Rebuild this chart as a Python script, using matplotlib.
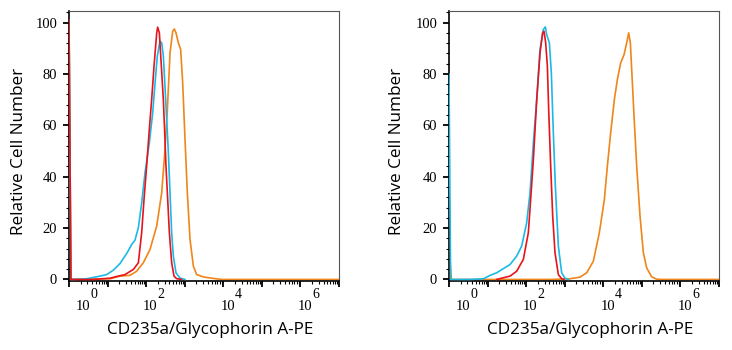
import numpy as np
import matplotlib
matplotlib.use("Agg")
import matplotlib.pyplot as plt
from matplotlib.ticker import FixedLocator, MultipleLocator, NullFormatter
from matplotlib.transforms import offset_copy

# ------------------------------------------------------------
# data (x = PE intensity, y = % of max)
# ------------------------------------------------------------
# left panel
red_L_x = [1.0, 1.12, 4.3, 11.6, 19.0, 28.3, 46.6, 62.8, 76.6, 88.0, 103, 119, 139, 160, 188,
           199, 220, 248, 279, 303, 327, 362, 400, 459, 528, 619, 834]
red_L_y = [101, 0, 0, 0.5, 1.3, 1.9, 3.9, 6.5, 18.2, 31.1, 44.1, 57.1, 70.0, 83.0, 96.0,
           98.2, 96.0, 83.0, 70.0, 57.1, 44.1, 31.1, 18.2, 6.5, 1.3, 0.3, 0]
cyan_L_x = [1.0, 1.12, 2.87, 6.37, 9.48, 14.1, 21.0, 31.3, 42.2, 51.4, 62.8, 76.6, 93.5, 121,
            148, 170, 195, 229, 253, 279, 308, 341, 377, 416, 459, 507, 594, 755, 1018]
cyan_L_y = [101, 0, 0.26, 1.3, 1.9, 3.6, 6.2, 10.1, 13.6, 15.3, 20.1, 29.8, 41.5, 53.2,
            64.9, 76.5, 87.0, 92.8, 92.1, 87.0, 75.2, 62.3, 49.3, 33.7, 18.2, 9.1, 2.6, 0.5, 0]
orange_L_x = [1.0, 1.12, 11.6, 21.0, 38.2, 56.8, 84.6, 126, 188, 253, 308, 355, 416, 488, 538,
              594, 684, 786, 886, 1018, 1170, 1372, 1675, 2042, 3041, 5521, 9085, 1e7]
orange_L_y = [101, 0, 0.26, 1.3, 1.6, 3.2, 6.5, 11.7, 20.8, 33.7, 50.6, 66.1, 88.2, 96.6, 97.5,
              96.0, 92.1, 89.5, 76.5, 54.5, 33.7, 15.6, 5.2, 1.9, 1.0, 0.4, 0, 0]

# right panel
red_R_x = [17.2, 38.2, 56.8, 84.6, 114, 131, 154, 188, 229, 268, 291, 321, 355, 384, 433,
           488, 560, 684, 834, 959]
red_R_y = [0, 1.3, 3.2, 7.8, 18.2, 31.1, 46.7, 70.0, 88.2, 96.0, 96.6, 92.1, 83.0, 66.1, 44.1,
           24.6, 10.4, 1.9, 0.3, 0]
cyan_R_x = [1.0, 1.1, 3.5, 7.8, 11.6, 17.2, 25.6, 38.2, 56.8, 76.6, 103, 126, 154, 188, 229,
            279, 315, 341, 400, 450, 507, 572, 684, 834, 1018, 1242]
cyan_R_y = [80, 0, 0, 0.26, 1.6, 2.6, 4.2, 5.8, 9.1, 13.0, 22.0, 33.7, 53.2, 70.0, 89.5,
            97.3, 98.3, 95.3, 92.1, 80.4, 57.1, 36.3, 13.0, 2.6, 0.5, 0]
orange_R_x = [1.0, 1.06, 1.15, 3.5, 416, 1372, 2494, 3715, 5521, 7907, 10666, 12744, 15550,
              19360, 23170, 28270, 34510, 40450, 45540, 50340, 56750, 62680, 73460, 89700,
              109400, 133400, 179800, 242600, 326800, 1e7]
orange_R_y = [23, 8, 0, 0, 0, 0.26, 0.9, 2.6, 7.1, 18.2, 31.1, 44.1, 57.1, 70.0, 77.8, 84.3,
              87.5, 92.1, 96.0, 92.1, 76.5, 63.6, 44.1, 24.6, 10.4, 4.5, 1.0, 0.1, 0, 0]

x_label = "CD235a/Glycophorin A-PE"
y_label = "Relative Cell Number"
exponents = [0, 2, 4, 6]

RED = "#e8141c"
CYAN = "#1cb9e6"
ORANGE = "#f08519"

plt.rcParams["font.family"] = ["Open Sans", "DejaVu Sans"]

fig = plt.figure(figsize=(7.32, 3.5), dpi=100)


def draw_panel(left_px, red, cyan, orange):
    ax = fig.add_axes([left_px / 732, 69 / 350, 270 / 732, 270 / 350])
    ax.plot(orange[0], orange[1], color=ORANGE, lw=1.2, zorder=2)
    ax.plot(cyan[0], cyan[1], color=CYAN, lw=1.2, zorder=3)
    ax.plot(red[0], red[1], color=RED, lw=1.2, zorder=4)

    ax.set_xscale("log")
    ax.set_xlim(1, 1e7)
    ax.set_ylim(-0.6, 104.5)

    ax.xaxis.set_major_locator(FixedLocator([10.0 ** k for k in range(8)]))
    ax.xaxis.set_minor_locator(FixedLocator(
        [m * 10.0 ** k for k in range(7) for m in range(2, 10)]))
    ax.xaxis.set_minor_formatter(NullFormatter())
    ax.yaxis.set_major_locator(MultipleLocator(20))
    ax.yaxis.set_minor_locator(MultipleLocator(4))

    ax.tick_params(which="major", direction="out", length=4.5, width=1.3, color="black")
    ax.tick_params(which="minor", direction="out", length=2.5, width=0.8, color="black")
    ax.tick_params(axis="x", labelbottom=False)
    ax.tick_params(axis="y", pad=4, labelsize=10.5)
    for lab in ax.get_yticklabels():
        lab.set_fontfamily("Liberation Serif")

    for s in ["top", "right"]:
        ax.spines[s].set_color("#555555")
        ax.spines[s].set_linewidth(0.8)
    for s in ["left", "bottom"]:
        ax.spines[s].set_color("black")
        ax.spines[s].set_linewidth(1.2)

    # decade labels, 10 with a big superscript, set a bit right of the tick
    base_tr = ax.get_xaxis_transform()
    for k in exponents:
        dx = 7 if k == 0 else -3
        ax.text(10.0 ** k, 0, "10", fontfamily="Liberation Serif", fontsize=10.5,
                ha="left", va="baseline",
                transform=offset_copy(base_tr, fig=fig, x=dx, y=-29, units="dots"))
        ax.text(10.0 ** k, 0, str(k), fontfamily="Liberation Serif", fontsize=10,
                ha="left", va="baseline",
                transform=offset_copy(base_tr, fig=fig, x=dx + 14.5, y=-17, units="dots"))
    return ax


draw_panel(69, (red_L_x, red_L_y), (cyan_L_x, cyan_L_y), (orange_L_x, orange_L_y))
draw_panel(449, (red_R_x, red_R_y), (cyan_R_x, cyan_R_y), (orange_R_x, orange_R_y))

for xc, yc in [(210, 19), (590, 397)]:
    fig.text(xc / 732, 1 - 329.5 / 350, x_label, ha="center", va="center", fontsize=12.3)
    fig.text(yc / 732, 1 - 151.5 / 350, y_label, ha="center", va="center",
             rotation=90, fontsize=12.3)

fig.savefig("out.png", dpi=100)
